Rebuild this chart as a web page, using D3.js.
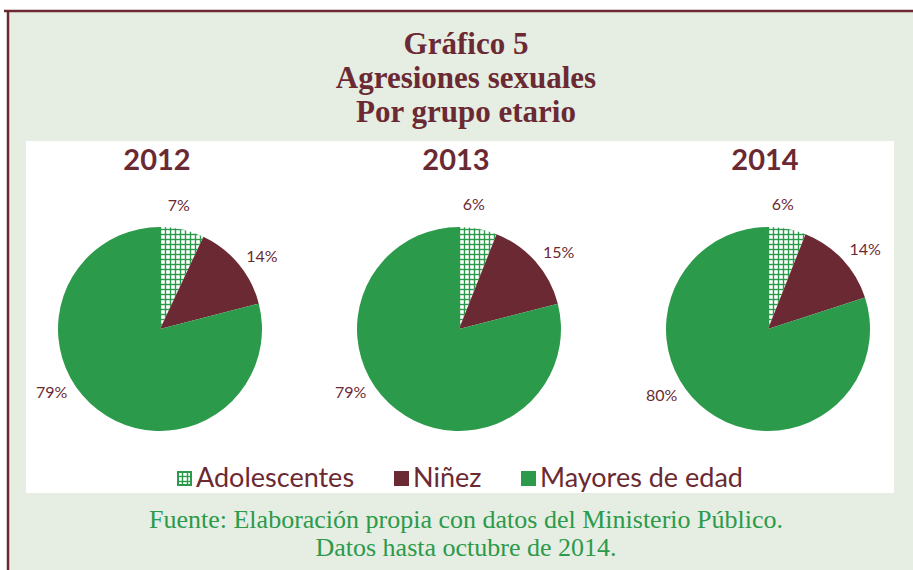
<!DOCTYPE html>
<html>
<head>
<meta charset="utf-8">
<script src="https://cdn.jsdelivr.net/npm/d3@7"></script>
<style>
  body { margin: 0; background: #fff; }
  svg { display: block; }
</style>
</head>
<body>
<div id="app"></div>
<script>
// data
const years = ["2012", "2013", "2014"]
const groups = ["Adolescentes", "Niñez", "Mayores de edad"]
const values2012 = [7, 14, 79]
const values2013 = [6, 15, 79]
const values2014 = [6, 14, 80]
const titleLines = ["Gráfico 5", "Agresiones sexuales", "Por grupo etario"]
const sourceLines = ["Fuente: Elaboración propia con datos del Ministerio Público.", "Datos hasta octubre de 2014."]

const series = [values2012, values2013, values2014]

let width = 913
let height = 570
let maroon = "#6b2a33"
let green = "#2b9a4a"
let bg = "#e6ede3"
let sans = "Lato, 'Open Sans', sans-serif"
let serif = "'Liberation Serif', 'DejaVu Serif', serif"

let root = d3.select("#app")
   .append("svg")
   .attr("width", width)
   .attr("height", height)

// hatch pattern for adolescentes
let pat = root.append("defs").append("pattern")
   .attr("id", "hatch")
   .attr("patternUnits", "userSpaceOnUse")
   .attr("width", 5)
   .attr("height", 5)
pat.append("rect").attr("width", 5).attr("height", 5).attr("fill", green)
pat.append("rect").attr("x", 1.2).attr("y", 1.2).attr("width", 3.6).attr("height", 3.6).attr("fill", "#fff")

const fills = ["url(#hatch)", maroon, green]

// frame
root.append("rect")
   .attr("x", 9).attr("y", 12)
   .attr("width", width - 9).attr("height", height - 12)
   .attr("fill", bg)
root.append("line")
   .attr("x1", 4).attr("x2", width).attr("y1", 11).attr("y2", 11)
   .attr("stroke", maroon).attr("stroke-width", 2.5)
root.append("line")
   .attr("x1", 8).attr("x2", 8).attr("y1", 10).attr("y2", height)
   .attr("stroke", maroon).attr("stroke-width", 2.5)

// white plot area
root.append("rect")
   .attr("x", 26).attr("y", 141)
   .attr("width", 868).attr("height", 352)
   .attr("fill", "#fff")

// title
root.append("g").selectAll("text")
   .data(titleLines)
   .join("text")
   .attr("x", 466)
   .attr("y", (d, i) => 54 + i * 34)
   .attr("text-anchor", "middle")
   .attr("font-family", serif)
   .attr("font-weight", "bold")
   .attr("font-size", "31px")
   .attr("fill", maroon)
   .text(d => d)

// pies
let centers = d3.scaleOrdinal().domain(years).range([160, 459, 768])
let radius = 102
let pie = d3.pie().sort(null).value(d => d)
let arc = d3.arc().innerRadius(0).outerRadius(radius)
let labelNudge = [-4, 4, 22] // degrees, mimics excel best fit
let labelR = radius * 1.23

years.forEach((yr, k) => {
   let cx = centers(yr)
   let cy = 329
   let g = root.append("g").attr("transform", `translate(${cx},${cy})`)
   let arcs = pie(series[k])

   g.selectAll("path")
      .data(arcs)
      .join("path")
      .attr("d", arc)
      .attr("fill", (d, i) => fills[i])

   g.selectAll("text.lbl")
      .data(arcs)
      .join("text")
      .attr("class", "lbl")
      .attr("x", (d, i) => Math.sin((d.startAngle + d.endAngle) / 2 + labelNudge[i] * Math.PI / 180) * labelR)
      .attr("y", (d, i) => -Math.cos((d.startAngle + d.endAngle) / 2 + labelNudge[i] * Math.PI / 180) * labelR)
      .attr("dy", "0.35em")
      .attr("text-anchor", "middle")
      .attr("font-family", sans)
      .attr("font-size", "16px")
      .attr("fill", maroon)
      .text(d => d.data + "%")

   root.append("text")
      .attr("x", cx - 3)
      .attr("y", 170)
      .attr("text-anchor", "middle")
      .attr("font-family", sans)
      .attr("font-weight", "bold")
      .attr("font-size", "29px")
      .attr("fill", maroon)
      .text(yr)
})

// legend
let legendX = [177, 394, 521]
let legend = root.append("g").selectAll("g")
   .data(groups)
   .join("g")
   .attr("transform", (d, i) => `translate(${legendX[i]},471)`)
legend.append("rect")
   .attr("width", 15).attr("height", 15)
   .attr("fill", (d, i) => i == 0 ? green : fills[i])
legend.filter((d, i) => i == 0).append("rect")
   .attr("x", 2).attr("y", 2).attr("width", 11).attr("height", 11)
   .attr("fill", "url(#hatch)")
legend.append("text")
   .attr("x", 19)
   .attr("y", 16)
   .attr("font-family", sans)
   .attr("font-size", "27px")
   .attr("fill", maroon)
   .text(d => d)

// source
root.append("g").selectAll("text")
   .data(sourceLines)
   .join("text")
   .attr("x", 466)
   .attr("y", (d, i) => 528 + i * 28)
   .attr("text-anchor", "middle")
   .attr("font-family", serif)
   .attr("font-size", "26px")
   .attr("fill", green)
   .text(d => d)
</script>
</body>
</html>
